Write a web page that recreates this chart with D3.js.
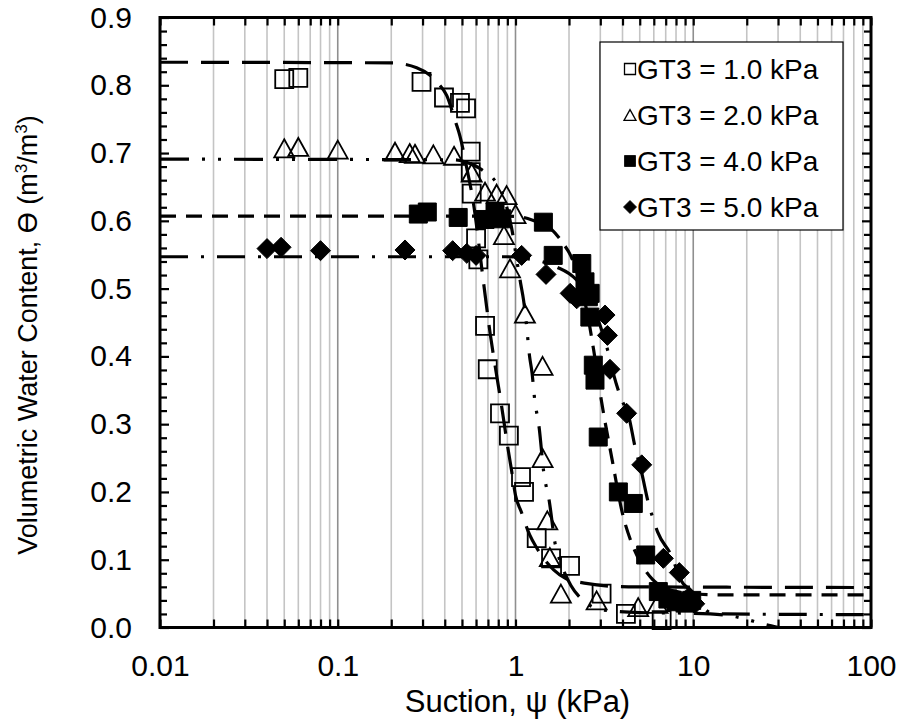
<!DOCTYPE html>
<html><head><meta charset="utf-8">
<script src="https://cdn.jsdelivr.net/npm/d3@7"></script>
<style>
html,body{margin:0;padding:0;background:#fff;}
svg{display:block;font-family:"Liberation Sans",Arial,sans-serif;}
</style></head><body>
<svg id="chart" width="901" height="723"></svg>
<script>
// ---------- measured points (suction in kPa, volumetric water content) ----------
const seriesNames = ["GT3 = 1.0 kPa", "GT3 = 2.0 kPa", "GT3 = 4.0 kPa", "GT3 = 5.0 kPa"];

const gt1Suction = [0.050, 0.060, 0.296, 0.396, 0.487, 0.527, 0.560, 0.560, 0.567, 0.600, 0.618, 0.674, 0.698, 0.818, 0.918, 1.074, 1.117, 1.316, 1.585, 2.027, 3.05, 4.18, 6.64];
const gt1Theta   = [0.809, 0.811, 0.805, 0.782, 0.774, 0.766, 0.702, 0.672, 0.640, 0.574, 0.543, 0.445, 0.381, 0.316, 0.283, 0.222, 0.200, 0.132, 0.102, 0.091, 0.050, 0.020, 0.011];

const gt2Suction = [0.050, 0.060, 0.100, 0.210, 0.254, 0.272, 0.345, 0.451, 0.567, 0.674, 0.783, 0.891, 1.000, 0.861, 0.931, 1.130, 1.420, 1.420, 1.510, 1.560, 1.800, 2.860, 4.900, 6.300];
const gt2Theta   = [0.707, 0.709, 0.705, 0.702, 0.700, 0.699, 0.698, 0.696, 0.671, 0.643, 0.640, 0.638, 0.610, 0.579, 0.530, 0.463, 0.386, 0.250, 0.158, 0.104, 0.050, 0.040, 0.030, 0.035];

const gt4Suction = [0.284, 0.319, 0.476, 0.674, 0.767, 0.836, 1.435, 1.630, 2.360, 2.460, 2.570, 2.630, 2.620, 2.740, 2.800, 2.920, 3.790, 4.600, 5.400, 6.360, 7.200, 8.000, 9.000, 9.800];
const gt4Theta   = [0.610, 0.613, 0.605, 0.602, 0.613, 0.603, 0.598, 0.549, 0.537, 0.510, 0.488, 0.493, 0.458, 0.387, 0.365, 0.281, 0.200, 0.183, 0.107, 0.053, 0.042, 0.038, 0.036, 0.040];

const gt5Suction = [0.040, 0.048, 0.080, 0.239, 0.443, 0.532, 0.600, 1.083, 1.485, 2.030, 2.210, 3.190, 3.290, 3.400, 4.220, 5.130, 6.790, 8.350, 9.500, 10.20];
const gt5Theta   = [0.559, 0.561, 0.556, 0.557, 0.556, 0.552, 0.549, 0.549, 0.521, 0.493, 0.485, 0.461, 0.431, 0.381, 0.316, 0.240, 0.102, 0.081, 0.045, 0.035];

// ---------- fitted retention curves (traced) ----------
const fit1Suction = [0.01, 0.2, 0.278, 0.367, 0.41, 0.46, 0.487, 0.53, 0.58, 0.658, 0.72, 0.78, 0.82, 0.92, 0.95, 1.0, 1.08, 1.2, 1.32, 1.64, 1.9, 2.5, 3.4, 4.8, 100];
const fit1Theta   = [0.834, 0.833, 0.826, 0.803, 0.785, 0.746, 0.725, 0.680, 0.626, 0.513, 0.434, 0.375, 0.340, 0.254, 0.232, 0.195, 0.170, 0.137, 0.117, 0.085, 0.073, 0.065, 0.061, 0.060, 0.059];

const fit2Suction = [0.01, 0.45, 0.52, 0.65, 0.78, 0.87, 0.95, 1.02, 1.07, 1.11, 1.15, 1.2, 1.24, 1.28, 1.36, 1.44, 1.55, 1.67, 1.8, 2.05, 2.4, 3.1, 5, 10, 15.5, 20, 24, 27, 31, 100];
const fit2Theta   = [0.691, 0.690, 0.687, 0.675, 0.656, 0.630, 0.590, 0.540, 0.507, 0.483, 0.449, 0.400, 0.375, 0.338, 0.294, 0.230, 0.186, 0.124, 0.095, 0.062, 0.040, 0.026, 0.022, 0.021, 0.018, 0.012, 0.006, 0.003, 0.000, 0.000];

const fit4Suction = [0.01, 0.8, 1.05, 1.25, 1.6, 1.85, 2.05, 2.3, 2.55, 2.75, 3.05, 3.5, 4.0, 4.45, 5.0, 5.9, 7.0, 9.6, 15, 100];
const fit4Theta   = [0.607, 0.607, 0.606, 0.601, 0.587, 0.567, 0.548, 0.510, 0.460, 0.410, 0.333, 0.247, 0.168, 0.128, 0.098, 0.071, 0.058, 0.050, 0.048, 0.048];

const fit5Suction = [0.01, 0.9, 1.1, 1.4, 1.7, 2.2, 2.6, 3.0, 3.3, 3.55, 3.9, 4.35, 4.7, 5.13, 5.6, 5.9, 6.3, 7.6, 8.5, 9.8, 11, 12.5, 15, 100];
const fit5Theta   = [0.547, 0.547, 0.545, 0.540, 0.532, 0.513, 0.485, 0.445, 0.409, 0.375, 0.340, 0.310, 0.267, 0.228, 0.183, 0.163, 0.141, 0.104, 0.070, 0.053, 0.034, 0.022, 0.020, 0.019];

// ---------- axis ticks ----------
const xDecades = [0.01, 0.1, 1, 10, 100];
const xDecadeLabels = ["0.01", "0.1", "1", "10", "100"];
const yMajorTicks = [0, 0.1, 0.2, 0.3, 0.4, 0.5, 0.6, 0.7, 0.8, 0.9];
const yMajorLabels = ["0.0", "0.1", "0.2", "0.3", "0.4", "0.5", "0.6", "0.7", "0.8", "0.9"];

// ---------- layout ----------
const plot = {left: 160, right: 871, top: 17.5, bottom: 627.5};
const svg = d3.select("#chart");

const x = d3.scaleLog().domain([0.01, 100]).range([plot.left, plot.right]);
const y = d3.scaleLinear().domain([0, 0.9]).range([plot.bottom, plot.top]);

const xMinor = [];
xDecades.slice(0, -1).forEach(d => { for (let k = 2; k <= 9; k++) xMinor.push(+(d * k).toPrecision(3)); });
const xAll = xMinor.concat(xDecades);
const yMinor = d3.range(0, 46).map(i => +(i * 0.02).toFixed(2)).filter(v => Math.round(v * 100) % 10 !== 0);

// vertical grid: light lines at 2..9 of each decade, darker at the decades
const grid = svg.append("g");
grid.selectAll("line.minor").data(xMinor).join("line")
  .attr("x1", d => x(d)).attr("x2", d => x(d))
  .attr("y1", plot.top).attr("y2", plot.bottom)
  .attr("stroke", "#c4c4c4").attr("stroke-width", 1.6);
grid.selectAll("line.major").data(xDecades.slice(1, -1)).join("line")
  .attr("x1", d => x(d)).attr("x2", d => x(d))
  .attr("y1", plot.top).attr("y2", plot.bottom)
  .attr("stroke", "#8f8f8f").attr("stroke-width", 1.6);

// ---------- markers ----------
const markerShapes = {
  square: s => `M${-s/2},${-s/2}h${s}v${s}h${-s}Z`,
  triangle: s => `M0,${-s*0.45}L${s/2},${s*0.45}L${-s/2},${s*0.45}Z`,
  diamond: s => `M0,${-s/2}L${s/2},0L0,${s/2}L${-s/2},0Z`
};
const series = [
  {s: gt1Suction, t: gt1Theta, shape: "square", fill: "none", size: 18, lsize: 11},
  {s: gt2Suction, t: gt2Theta, shape: "triangle", fill: "none", size: 20, lsize: 12},
  {s: gt4Suction, t: gt4Theta, shape: "square", fill: "#000", size: 18, lsize: 11},
  {s: gt5Suction, t: gt5Theta, shape: "diamond", fill: "#000", size: 20, lsize: 13}
];

const marks = svg.append("g");
series.forEach(sr => {
  marks.append("g").selectAll("path").data(d3.zip(sr.s, sr.t)).join("path")
    .attr("transform", d => `translate(${x(d[0])},${y(d[1])})`)
    .attr("d", markerShapes[sr.shape](sr.size))
    .attr("fill", sr.fill)
    .attr("stroke", "#000").attr("stroke-width", sr.fill === "none" ? 1.8 : 1);
});

// ---------- fitted curves ----------
const line = d3.line().x(d => x(d[0])).y(d => y(d[1])).curve(d3.curveMonotoneX);
const fits = [
  {s: fit1Suction, t: fit1Theta, dash: "28,13"},
  {s: fit2Suction, t: fit2Theta, dash: "29,13,3,13,3,13"},
  {s: fit4Suction, t: fit4Theta, dash: "16,10"},
  {s: fit5Suction, t: fit5Theta, dash: "28,13,3,13"}
];
const curves = svg.append("g");
fits.forEach(f => {
  curves.append("path").datum(d3.zip(f.s, f.t))
    .attr("d", line).attr("fill", "none").attr("stroke", "#000")
    .attr("stroke-width", 3.2).attr("stroke-dasharray", f.dash);
});

// ---------- axes (ticks point inward on all four sides) ----------
const tickFont = 30;
const xBottom = svg.append("g").attr("transform", `translate(0,${plot.bottom})`)
  .call(d3.axisBottom(x).tickValues(xAll).tickSizeInner(-8).tickSizeOuter(0).tickPadding(27)
    .tickFormat(d => { const i = xDecades.indexOf(d); return i >= 0 ? xDecadeLabels[i] : ""; }));
const xTop = svg.append("g").attr("transform", `translate(0,${plot.top})`)
  .call(d3.axisTop(x).tickValues(xAll).tickSizeInner(-8).tickSizeOuter(0).tickFormat(""));
const yLeft = svg.append("g").attr("transform", `translate(${plot.left},0)`)
  .call(d3.axisLeft(y).tickValues(yMajorTicks).tickSizeInner(-9).tickSizeOuter(0).tickPadding(28)
    .tickFormat((d, i) => yMajorLabels[i]));
const yLeftMinor = svg.append("g").attr("transform", `translate(${plot.left},0)`)
  .call(d3.axisLeft(y).tickValues(yMinor).tickSizeInner(-7).tickSizeOuter(0).tickFormat(""));
const yRight = svg.append("g").attr("transform", `translate(${plot.right},0)`)
  .call(d3.axisRight(y).tickValues(yMajorTicks).tickSizeInner(-9).tickSizeOuter(0).tickFormat(""));
const yRightMinor = svg.append("g").attr("transform", `translate(${plot.right},0)`)
  .call(d3.axisRight(y).tickValues(yMinor).tickSizeInner(-7).tickSizeOuter(0).tickFormat(""));

[xBottom, xTop, yLeft, yLeftMinor, yRight, yRightMinor].forEach(g => {
  g.select(".domain").remove();
  g.selectAll(".tick line").attr("stroke", "#000").attr("stroke-width", 2.2);
  g.selectAll(".tick text").attr("fill", "#000").attr("font-size", tickFont)
    .attr("font-family", '"Liberation Sans", Arial, sans-serif');
});

// plot frame
svg.append("rect")
  .attr("x", plot.left).attr("y", plot.top)
  .attr("width", plot.right - plot.left).attr("height", plot.bottom - plot.top)
  .attr("fill", "none").attr("stroke", "#000").attr("stroke-width", 3);

// ---------- axis titles ----------
svg.append("text")
  .attr("x", (plot.left + plot.right) / 2 + 2).attr("y", 712)
  .attr("text-anchor", "middle").attr("font-size", 31).attr("fill", "#000")
  .text("Suction, ψ (kPa)");

const yt = svg.append("text")
  .attr("transform", `translate(37,335) rotate(-90)`)
  .attr("text-anchor", "middle").attr("font-size", 27).attr("fill", "#000");
yt.append("tspan").text("Volumetric Water Content, ϴ (m");
yt.append("tspan").attr("dy", -10).attr("font-size", 17).text("3");
yt.append("tspan").attr("dy", 10).text("/m");
yt.append("tspan").attr("dy", -10).attr("font-size", 17).text("3");
yt.append("tspan").attr("dy", 10).text(")");

// ---------- legend ----------
const legend = svg.append("g");
legend.append("rect").attr("x", 600).attr("y", 42).attr("width", 243).attr("height", 188)
  .attr("fill", "#fff").attr("stroke", "#000").attr("stroke-width", 1.2);
const rowY = d3.scalePoint().domain(seriesNames).range([69, 207]);
series.forEach((sr, i) => {
  const cy = rowY(seriesNames[i]);
  legend.append("path").attr("transform", `translate(630,${cy})`)
    .attr("d", markerShapes[sr.shape](sr.lsize))
    .attr("fill", sr.fill).attr("stroke", "#000").attr("stroke-width", sr.fill === "none" ? 1.3 : 0.8);
  legend.append("text").attr("x", 637).attr("y", cy).attr("dy", "0.36em")
    .attr("font-size", 28).attr("fill", "#000").text(seriesNames[i]);
});
</script>
</body></html>
